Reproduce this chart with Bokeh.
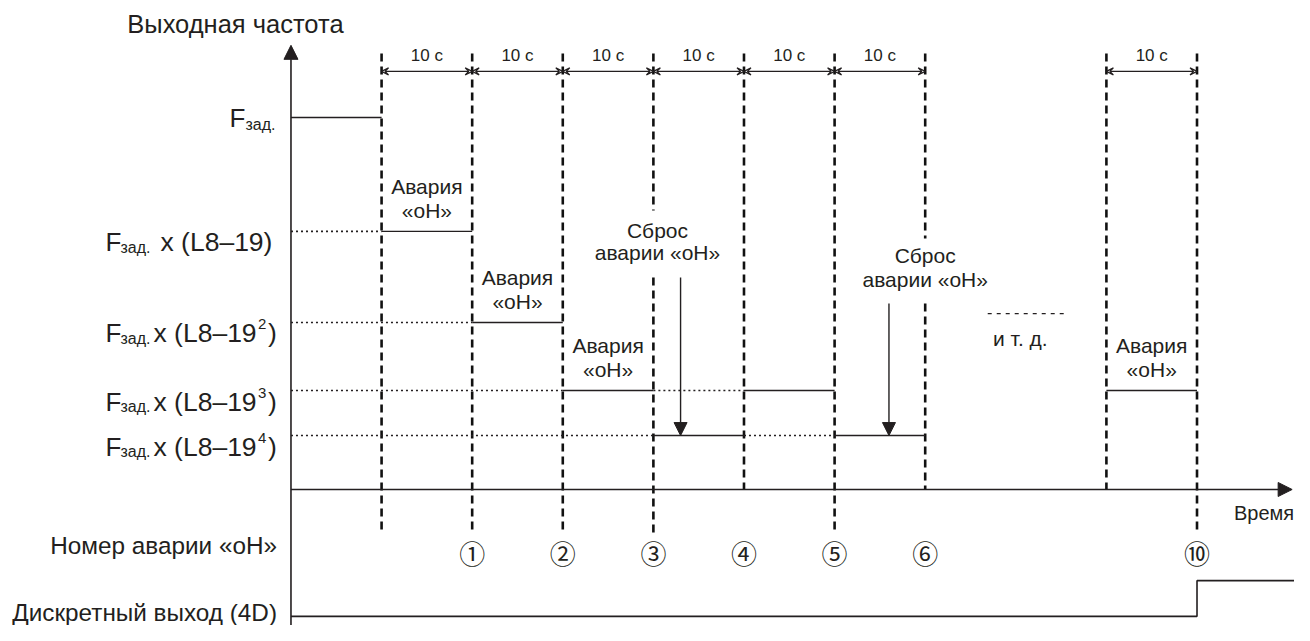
from bokeh.plotting import figure
from bokeh.models import Range1d, Arrow, NormalHead, VeeHead
from bokeh.core.properties import value
from bokeh.embed import file_html
from bokeh.resources import INLINE

# ---------------- data ----------------
event_times = [10, 20, 30, 40, 50, 60, 70, 90, 100]          # dashed event lines, s
event_below_axis = [True, True, True, True, False, True, False, False, True]
interval_start = [10, 20, 30, 40, 50, 60, 90]
interval_end = [20, 30, 40, 50, 60, 70, 100]
interval_text = "10 с"
level_values = [1.0, 0.694, 0.449, 0.266, 0.145]               # Fзад, Fзад·L, ·L², ·L³, ·L⁴
level_powers = ["", "", "2", "3", "4"]
seg_start = [0, 10, 20, 30, 40, 50, 60, 90]                    # output frequency steps
seg_end = [10, 20, 30, 40, 50, 60, 70, 100]
seg_level = [0, 1, 2, 3, 4, 3, 4, 3]
ref_start = [0, 0, 0, 40, 0, 50]                               # dotted reference lines
ref_end = [10, 20, 30, 50, 40, 60]
ref_level = [1, 2, 3, 3, 4, 4]
alarm_times = [15, 25, 35, 95]
alarm_level = [1, 2, 3, 3]
reset_arrow_times = [43.0, 66.0]
reset_arrow_top = [0.570, 0.500]
reset_label_times = [40.45, 70.0]
number_times = [20, 30, 40, 50, 60, 70, 100]
number_labels = ["①", "②", "③", "④", "⑤", "⑥", "⑩"]
dout_t = [0, 100, 100, 112]
dout_v = [0, 0, 1, 1]
etc_t = [76.9, 85.7]

# ---------------- layout ----------------
W, H = 1294, 625
X_START, X_END = -32.06, 110.76
Y_START, Y_END = -0.3656, 1.3145
DASH_TOP = 1.172
DASH_BOTTOM = -0.1156
DIM_Y = 1.124
DIM_TXT_Y = 1.167
NUM_Y = -0.169
DOUT_LOW, DOUT_HIGH = -0.341, -0.245
GAPS = {40: (0.750, 0.570), 70: (0.675, 0.500)}
INK = "#231f20"
FONT = value("Liberation Sans")

p = figure(width=W, height=H, output_backend="svg", toolbar_location=None,
           x_range=Range1d(X_START, X_END), y_range=Range1d(Y_START, Y_END),
           x_axis_type=None, y_axis_type=None, min_border=0)
p.grid.visible = False
p.outline_line_color = None
p.background_fill_color = "white"
p.border_fill_color = "white"

# axes (arrows)
p.add_layout(Arrow(x_start=0, y_start=Y_START, x_end=0, y_end=1.194,
                   line_color=INK, line_width=1.6,
                   end=NormalHead(size=14, fill_color=INK, line_color=INK)))
p.add_layout(Arrow(x_start=0, y_start=0, x_end=110.5, y_end=0,
                   line_color=INK, line_width=1.6,
                   end=NormalHead(size=14, fill_color=INK, line_color=INK)))

# dashed event lines
vx, vy0, vy1 = [], [], []
for t, below in zip(event_times, event_below_axis):
    bottom = DASH_BOTTOM if below else 0
    if t in GAPS:
        g_top, g_bot = GAPS[t]
        vx += [t, t]; vy0 += [DASH_TOP, g_bot]; vy1 += [g_top, bottom]
    else:
        vx.append(t); vy0.append(DASH_TOP); vy1.append(bottom)
p.segment(x0=vx, y0=vy0, x1=vx, y1=vy1, line_color="#111111",
          line_width=2.6, line_dash="8 5")

# dimension arrows "10 с"
for a, b in zip(interval_start, interval_end):
    p.add_layout(Arrow(x_start=a, y_start=DIM_Y, x_end=b, y_end=DIM_Y,
                       line_color=INK, line_width=1.2,
                       start=VeeHead(size=7, line_color=INK, line_width=1.2, fill_color=None),
                       end=VeeHead(size=7, line_color=INK, line_width=1.2, fill_color=None)))
p.text(x=[(a + b) / 2 for a, b in zip(interval_start, interval_end)],
       y=[DIM_TXT_Y] * len(interval_start), text=[interval_text] * len(interval_start),
       text_font=FONT, text_font_size="17px", text_align="center",
       text_baseline="middle", text_color=INK)

# frequency steps and dotted references
p.segment(x0=ref_start, y0=[level_values[i] for i in ref_level],
          x1=ref_end, y1=[level_values[i] for i in ref_level],
          line_color=INK, line_width=1.6, line_dash="2 3")
p.segment(x0=seg_start, y0=[level_values[i] for i in seg_level],
          x1=seg_end, y1=[level_values[i] for i in seg_level],
          line_color=INK, line_width=1.4)

# "Авария «oH»" labels
ax = alarm_times
ay = [level_values[i] for i in alarm_level]
p.text(x=ax, y=ay, text=["Авария"] * len(ax), y_offset=-45, text_font=FONT,
       text_font_size="21px", text_align="center", text_baseline="middle", text_color=INK)
p.text(x=ax, y=ay, text=["«oH»"] * len(ax), y_offset=-21, text_font=FONT,
       text_font_size="21px", text_align="center", text_baseline="middle", text_color=INK)

# reset arrows and labels
for t, top in zip(reset_arrow_times, reset_arrow_top):
    p.add_layout(Arrow(x_start=t, y_start=top, x_end=t, y_end=level_values[4],
                       line_color=INK, line_width=1.4,
                       end=NormalHead(size=13, fill_color=INK, line_color=INK)))
p.text(x=reset_label_times, y=[0.696, 0.629], text=["Сброс", "Сброс"], text_font=FONT,
       text_font_size="21px", text_align="center", text_baseline="middle", text_color=INK)
p.text(x=reset_label_times, y=[0.637, 0.565], text=["аварии «oH»"] * 2, text_font=FONT,
       text_font_size="21px", text_align="center", text_baseline="middle", text_color=INK)

# "и т. д."
p.segment(x0=[etc_t[0]], y0=[0.473], x1=[etc_t[1]], y1=[0.473],
          line_color=INK, line_width=1.2, line_dash="4 5")
p.text(x=[80.5], y=[0.406], text=["и т. д."], text_font=FONT, text_font_size="21px",
       text_align="center", text_baseline="middle", text_color=INK)

# titles
p.text(x=[-6.13], y=[1.25], text=["Выходная частота"], text_font=FONT,
       text_font_size="25.5px", text_align="center", text_baseline="middle", text_color=INK)
p.text(x=[107.4], y=[-0.0645], text=["Время"], text_font=FONT,
       text_font_size="20px", text_align="center", text_baseline="middle", text_color=INK)

# y-axis level labels
p.text(x=[0], y=[level_values[0]], text=["F"], x_offset=-61.5, y_offset=1,
       text_font=FONT, text_font_size="26px", text_align="left",
       text_baseline="alphabetic", text_color=INK)
p.text(x=[0], y=[level_values[0]], text=["зад."], x_offset=-45.5, y_offset=7,
       text_font=FONT, text_font_size="16px", text_align="left",
       text_baseline="alphabetic", text_color=INK)
for i in range(1, 5):
    lv = level_values[i]
    p.text(x=[0], y=[lv], text=["F"], x_offset=-185.5, y_offset=11,
           text_font=FONT, text_font_size="26px", text_align="left",
           text_baseline="alphabetic", text_color=INK)
    p.text(x=[0], y=[lv], text=["зад."], x_offset=-170.5, y_offset=16,
           text_font=FONT, text_font_size="16px", text_align="left",
           text_baseline="alphabetic", text_color=INK)
    if level_powers[i]:
        p.text(x=[0], y=[lv], text=["x (L8–19"], x_offset=-137.5, y_offset=11,
               text_font=FONT, text_font_size="26.5px", text_align="left",
               text_baseline="alphabetic", text_color=INK)
        p.text(x=[0], y=[lv], text=[level_powers[i]], x_offset=-33, y_offset=2,
               text_font=FONT, text_font_size="15px", text_align="left",
               text_baseline="alphabetic", text_color=INK)
        p.text(x=[0], y=[lv], text=[")"], x_offset=-23, y_offset=11,
               text_font=FONT, text_font_size="26.5px", text_align="left",
               text_baseline="alphabetic", text_color=INK)
    else:
        p.text(x=[0], y=[lv], text=["x (L8–19)"], x_offset=-130.5, y_offset=11,
               text_font=FONT, text_font_size="26.5px", text_align="left",
               text_baseline="alphabetic", text_color=INK)

# alarm numbers row
p.text(x=[0], y=[NUM_Y], text=["Номер аварии «oH»"], x_offset=-14, y_offset=-7,
       text_font=FONT, text_font_size="24.3px", text_align="right",
       text_baseline="middle", text_color=INK)
p.text(x=number_times, y=[NUM_Y] * len(number_times), text=number_labels,
       text_font=value("Noto Sans CJK JP"), text_font_size="26px",
       text_align="center", text_baseline="middle", text_color=INK)

# discrete output
p.line(x=dout_t, y=[DOUT_HIGH if v else DOUT_LOW for v in dout_v],
       line_color=INK, line_width=1.6)
p.text(x=[0], y=[DOUT_LOW], text=["Дискретный выход (4D)"], x_offset=-14, y_offset=-4,
       text_font=FONT, text_font_size="24.3px", text_align="right",
       text_baseline="middle", text_color=INK)

open("out.html", "w").write(file_html(p, INLINE))
